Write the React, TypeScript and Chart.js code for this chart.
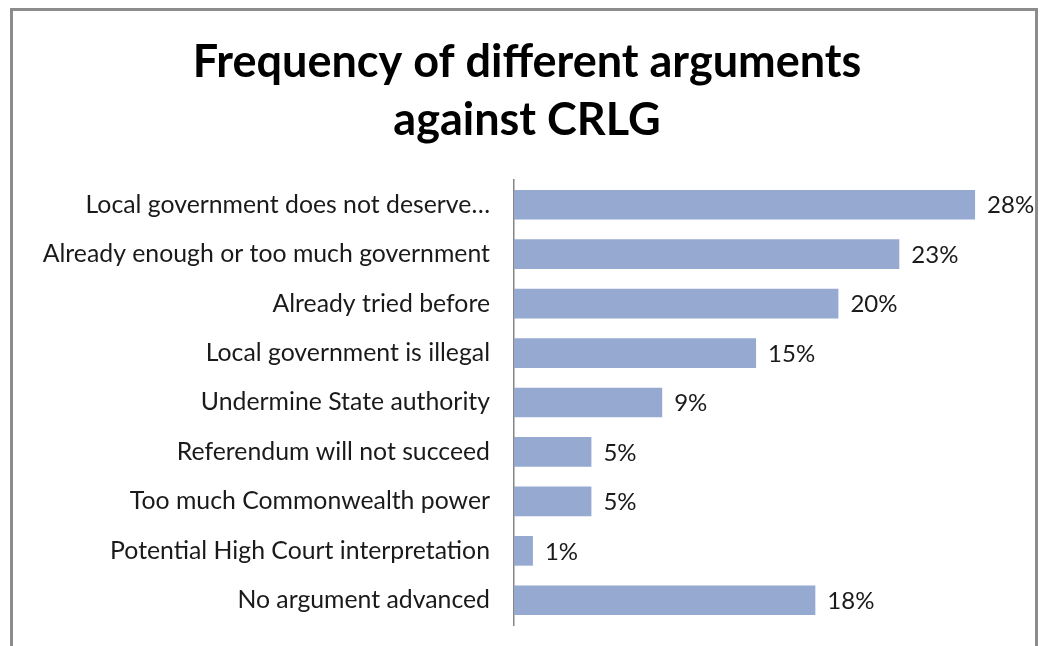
import React, { useEffect, useRef } from "react";
import { Chart, registerables } from "chart.js";

Chart.register(...registerables);

const categories = [
  "Local government does not deserve…",
  "Already enough or too much government",
  "Already tried before",
  "Local government is illegal",
  "Undermine State authority",
  "Referendum will not succeed",
  "Too much Commonwealth power",
  "Potential High Court interpretation",
  "No argument advanced",
];
const values = [28, 23.4, 19.7, 14.7, 9.0, 4.7, 4.7, 1.15, 18.3];
const titleLines = ["Frequency of different arguments", "against CRLG"];

const FONT = "Lato";

const dataLabels = {
  id: "dataLabels",
  afterDatasetsDraw(chart: any) {
    const ctx = chart.ctx;
    const meta = chart.getDatasetMeta(0);
    ctx.save();
    ctx.font = `24px ${FONT}`;
    ctx.fillStyle = "#1a1a1a";
    ctx.textAlign = "left";
    ctx.textBaseline = "middle";
    meta.data.forEach((bar: any, i: number) => {
      const v = chart.data.datasets[0].data[i] as number;
      ctx.fillText(`${Math.round(v)}%`, bar.x + 12, bar.y + 1);
    });
    ctx.restore();
  },
};

const centeredTitle = {
  id: "centeredTitle",
  afterDraw(chart: any) {
    const ctx = chart.ctx;
    ctx.save();
    ctx.font = `bold 45px ${FONT}`;
    ctx.fillStyle = "#000";
    ctx.textAlign = "center";
    ctx.textBaseline = "middle";
    titleLines.forEach((line, i) => {
      ctx.fillText(line, 527, 62 + i * 58);
    });
    ctx.restore();
  },
};

export default function App() {
  const ref = useRef<HTMLCanvasElement>(null);
  useEffect(() => {
    document.body.style.margin = "0";
    const chart = new Chart(ref.current!, {
      type: "bar",
      data: {
        labels: categories,
        datasets: [
          {
            data: values,
            backgroundColor: "#95a9d1",
            borderWidth: 0,
            categoryPercentage: 1,
            barPercentage: 0.6,
          },
        ],
      },
      options: {
        indexAxis: "y",
        animation: false,
        responsive: false,
        layout: { padding: { top: 180, bottom: 21, left: 0, right: 38 } },
        plugins: {
          legend: { display: false },
          tooltip: { enabled: false },
          title: { display: false },
        },
        scales: {
          x: { display: false, min: 0, max: 30 },
          y: {
            afterFit(scale: any) {
              scale.width = 514;
              scale.paddingTop = 0;
              scale.paddingBottom = 0;
            },
            grid: { display: false },
            border: { display: true, color: "#868686", width: 1.5 },
            ticks: {
              padding: 16,
              color: "#1a1a1a",
              font: { family: FONT, size: 24.8 },
              autoSkip: false,
            },
          },
        },
      },
      plugins: [dataLabels, centeredTitle],
    });
    return () => chart.destroy();
  }, []);
  return (
    <div style={{ position: "relative", width: 1046, height: 646, background: "#fff" }}>
      <canvas ref={ref} width={1046} height={646} style={{ display: "block" }} />
      <div
        style={{
          position: "absolute",
          left: 10,
          top: 8,
          width: 1028,
          height: 646,
          borderLeft: "3px solid #8c8c8c",
          borderTop: "3px solid #8c8c8c",
          borderRight: "3px solid #8c8c8c",
          boxSizing: "border-box",
          pointerEvents: "none",
        }}
      />
    </div>
  );
}
